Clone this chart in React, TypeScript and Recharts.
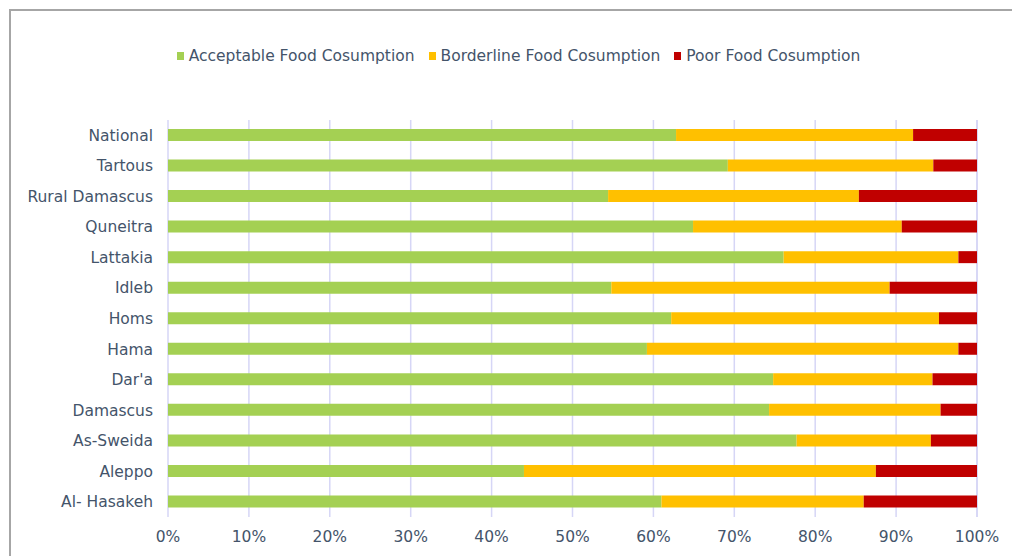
import React from "react";
import { BarChart, Bar, XAxis, YAxis, CartesianGrid, Legend } from "recharts";

const regions = [
  "National",
  "Tartous",
  "Rural Damascus",
  "Quneitra",
  "Lattakia",
  "Idleb",
  "Homs",
  "Hama",
  "Dar'a",
  "Damascus",
  "As-Sweida",
  "Aleppo",
  "Al- Hasakeh",
];

const acceptable = [62.8, 69.2, 54.4, 64.9, 76.1, 54.8, 62.2, 59.2, 74.8, 74.3, 77.7, 44.0, 61.0];
const borderline = [29.3, 25.4, 31.0, 25.8, 21.6, 34.4, 33.1, 38.5, 19.7, 21.2, 16.6, 43.5, 25.0];
const poor = [7.9, 5.4, 14.6, 9.3, 2.3, 10.8, 4.7, 2.3, 5.5, 4.5, 5.7, 12.5, 14.0];

const xTicks = [0, 10, 20, 30, 40, 50, 60, 70, 80, 90, 100];

const seriesNames = [
  "Acceptable Food Cosumption",
  "Borderline Food Cosumption",
  "Poor Food Cosumption",
];

const data = regions.map((name, i) => ({
  name,
  acceptable: acceptable[i],
  borderline: borderline[i],
  poor: poor[i],
}));

const textColor = "#44546A";
const font = "'DejaVu Sans', Verdana, sans-serif";
const fontSize = 15.5;

function LegendContent({ payload }: any) {
  return (
    <div
      style={{
        display: "flex",
        justifyContent: "center",
        paddingLeft: 60,
        fontFamily: font,
        fontSize,
        color: textColor,
      }}
    >
      {(payload || []).map((p: any, i: number) => (
        <span key={i} style={{ display: "flex", alignItems: "center", marginRight: i < 2 ? 14 : 0 }}>
          <span style={{ width: 7, height: 8, background: p.color, display: "inline-block", marginRight: 5 }} />
          {p.value}
        </span>
      ))}
    </div>
  );
}

export default function App() {
  return (
    <div style={{ position: "absolute", left: 0, top: 0, width: 1012, height: 556, overflow: "hidden", background: "#fff" }}>
      <div
        style={{
          position: "absolute",
          left: 9,
          top: 9,
          width: 1100,
          height: 700,
          border: "2px solid #a6a6a6",
        }}
      />
      <div style={{ position: "absolute", left: 0, top: 0 }}>
        <BarChart
          width={1012}
          height={556}
          data={data}
          layout="vertical"
          margin={{ top: 102, right: 35, left: 0, bottom: 9 }}
          barSize={12}
        >
          <CartesianGrid horizontal={false} stroke="#D6D6F6" strokeWidth={1.5} />
          <XAxis
            type="number"
            domain={[0, 100]}
            ticks={xTicks}
            tickFormatter={(v: number) => `${v}%`}
            axisLine={false}
            tickLine={false}
            tickMargin={8}
            tick={{ fill: textColor, fontSize, fontFamily: font }}
          />
          <YAxis
            type="category"
            dataKey="name"
            width={168}
            axisLine={false}
            tickLine={false}
            tickMargin={9}
            interval={0}
            tick={{ fill: textColor, fontSize, fontFamily: font }}
          />
          <Legend verticalAlign="top" wrapperStyle={{ top: 47 }} content={<LegendContent />} />
          <Bar dataKey="acceptable" name={seriesNames[0]} stackId="a" fill="#A4D053" isAnimationActive={false} />
          <Bar dataKey="borderline" name={seriesNames[1]} stackId="a" fill="#FFC000" isAnimationActive={false} />
          <Bar dataKey="poor" name={seriesNames[2]} stackId="a" fill="#C00000" isAnimationActive={false} />
        </BarChart>
      </div>
    </div>
  );
}
